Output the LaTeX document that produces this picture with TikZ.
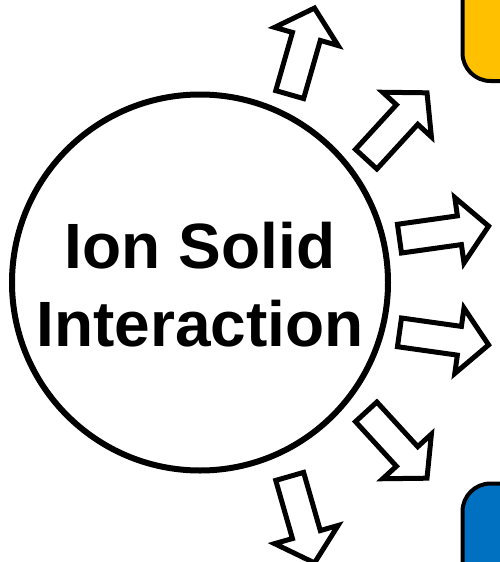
\documentclass[tikz,border=0pt]{standalone}
\usepackage{fontspec}
\setmainfont{Liberation Sans}
\definecolor{boxyellow}{HTML}{FFC000}
\definecolor{boxblue}{HTML}{0070C0}
\tikzset{
  arrowline/.style={draw=black, fill=white, line width=5pt, line join=miter, miter limit=12},
  blockarrow/.pic={\path[arrowline] (2.5,-14.5) -- (63,-14.5) -- (63,-33) -- (92.5,0) -- (63,33) -- (63,14.5) -- (2.5,14.5) -- cycle;},
  sidebox/.style={draw=black, line width=4pt, rounded corners=28pt},
  bigcircle/.style={circle, draw=black, line width=6pt, fill=white, inner sep=0pt, minimum size=376pt},
  bigtext/.style={font=\bfseries\fontsize{64}{78}\selectfont, inner sep=0pt, anchor=base}
}
\begin{document}
\begin{tikzpicture}[x=1pt,y=-1pt]
\useasboundingbox (0,0) rectangle (500,562);
\clip (0,0) rectangle (500,562);
\fill[white] (0,0) rectangle (500,562);
% side boxes
\path[sidebox, fill=boxyellow] (462.5,-60) rectangle (580,81);
\path[sidebox, fill=boxblue] (462.5,483.5) rectangle (580,640);
% central circle
\node[bigcircle] (isi) at (200,282.5) {};
\node[bigtext] (line1) at (200,268) {Ion Solid};
\node[bigtext] (line2) at (200,346) {Interaction};
% arrows
\pic[rotate=74] (a1) at (289,97) {blockarrow};
\pic[rotate=47.5] (a2) at (364.5,161) {blockarrow};
\pic[rotate=8] (a3) at (397,239) {blockarrow};
\pic[rotate=-8] (a4) at (397,332) {blockarrow};
\pic[rotate=-47.5] (a5) at (364.5,410) {blockarrow};
\pic[rotate=-74] (a6) at (289,474) {blockarrow};
\end{tikzpicture}
\end{document}
